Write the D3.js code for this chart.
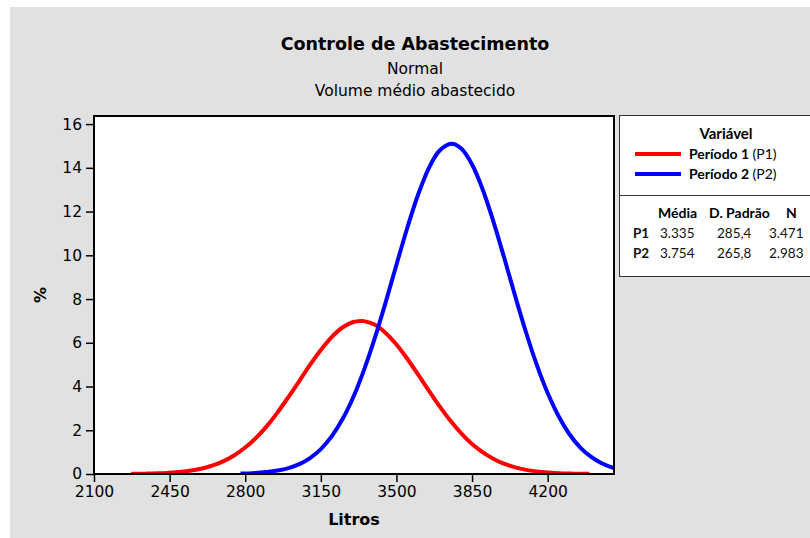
<!DOCTYPE html>
<html><head><meta charset="utf-8">
<script src="https://cdn.jsdelivr.net/npm/d3@7/dist/d3.min.js"></script>
<style>body{margin:0;background:#fff}svg{display:block}</style>
</head><body>
<script>
// ---- data ----
const xTicks = [2100, 2450, 2800, 3150, 3500, 3850, 4200];
const yTicks = [0, 2, 4, 6, 8, 10, 12, 14, 16];
const p1Litros = [2272,2300,2350,2400,2450,2500,2550,2600,2650,2700,2750,2800,2850,2900,2950,3000,3050,3100,3150,3200,3250,3300,3335,3350,3400,3450,3500,3550,3600,3650,3700,3750,3800,3850,3900,3950,4000,4050,4100,4150,4200,4250,4300,4350,4393];
const p1Pct    = [0.01,0.01,0.02,0.03,0.06,0.10,0.16,0.25,0.39,0.59,0.86,1.21,1.65,2.19,2.82,3.52,4.25,4.99,5.67,6.26,6.70,6.95,7.00,6.99,6.82,6.45,5.92,5.27,4.55,3.81,3.09,2.43,1.86,1.37,0.99,0.69,0.46,0.30,0.19,0.12,0.07,0.04,0.02,0.01,0.01];
const p2Litros = [2778,2800,2850,2900,2950,3000,3050,3100,3150,3200,3250,3300,3350,3400,3450,3500,3550,3600,3650,3700,3754,3800,3850,3900,3950,4000,4050,4100,4150,4200,4250,4300,4350,4400,4450,4500,4507];
const p2Pct    = [0.02,0.02,0.05,0.09,0.16,0.27,0.45,0.73,1.14,1.72,2.50,3.51,4.76,6.22,7.85,9.57,11.25,12.77,13.99,14.79,15.10,14.88,14.15,12.99,11.51,9.84,8.12,6.47,4.98,3.70,2.65,1.83,1.22,0.79,0.49,0.29,0.27];
const seriesNames = ["Período 1", "Período 2"];
const seriesCodes = ["(P1)", "(P2)"];
const tableHeader = ["Média", "D. Padrão", "N"];
const tableRows = [["P1","3.335","285,4","3.471"],["P2","3.754","265,8","2.983"]];
const colors = ["#ff0000", "#0000ff"];

const W = 810, H = 538;
const svg = d3.select("body").append("svg").attr("width", W).attr("height", H);
svg.append("rect").attr("x",10).attr("y",7).attr("width",W-10).attr("height",H-7).attr("fill","#e1e1e1");

const L = 94, R = 614, T = 116, B = 474;
const x = d3.scaleLinear().domain([2100, 4507]).range([L, R]);
const y = d3.scaleLinear().domain([0, 16.37]).range([B, T]);

svg.append("rect").attr("x",L).attr("y",T).attr("width",R-L).attr("height",B-T).attr("fill","#fff");

// titles
const font = "DejaVu Sans, Verdana, sans-serif";
svg.append("text").attr("x",415).attr("y",50).attr("text-anchor","middle")
  .attr("font-family",font).attr("font-weight","bold").attr("font-size",17.5).text("Controle de Abastecimento");
svg.append("text").attr("x",415).attr("y",74).attr("text-anchor","middle")
  .attr("font-family",font).attr("font-size",15.5).text("Normal");
svg.append("text").attr("x",415).attr("y",96).attr("text-anchor","middle")
  .attr("font-family",font).attr("font-size",15.5).text("Volume médio abastecido");

// clip
svg.append("clipPath").attr("id","pc").append("rect").attr("x",L).attr("y",T).attr("width",R-L).attr("height",B-T);

const line = d3.line().x(d=>x(d[0])).y(d=>y(d[1])).curve(d3.curveCatmullRom);
const g = svg.append("g").attr("clip-path","url(#pc)");
[[p1Litros,p1Pct],[p2Litros,p2Pct]].forEach((s,i)=>{
  g.append("path").datum(s[0].map((v,k)=>[v,s[1][k]]))
   .attr("d",line).attr("fill","none").attr("stroke",colors[i]).attr("stroke-width",4)
   .attr("stroke-linejoin","round");
});

// axes
const xa = svg.append("g").attr("transform",`translate(0,${B})`)
  .call(d3.axisBottom(x).tickValues(xTicks).tickSize(8).tickSizeOuter(0).tickPadding(4).tickFormat(d3.format("d")));
const ya = svg.append("g").attr("transform",`translate(${L},0)`)
  .call(d3.axisLeft(y).tickValues(yTicks).tickSize(8).tickSizeOuter(0).tickPadding(4));
[xa,ya].forEach(a=>{
  a.select(".domain").remove();
  a.selectAll("line").attr("stroke","#000").attr("stroke-width",1.5);
  a.selectAll("text").attr("font-family",font).attr("font-size",15.5).attr("fill","#000");
});
svg.append("rect").attr("x",L).attr("y",T).attr("width",R-L).attr("height",B-T)
  .attr("fill","none").attr("stroke","#000").attr("stroke-width",2);

svg.append("text").attr("x",(L+R)/2).attr("y",525).attr("text-anchor","middle")
  .attr("font-family",font).attr("font-weight","bold").attr("font-size",16).text("Litros");
svg.append("text").attr("transform",`translate(46,${(T+B)/2}) rotate(-90)`).attr("text-anchor","middle")
  .attr("font-family",font).attr("font-weight","bold").attr("font-size",16).text("%");

// legend
const lf = "Lato, 'Open Sans', sans-serif";
svg.append("rect").attr("x",619.5).attr("y",115.5).attr("width",200).attr("height",161)
  .attr("fill","#fff").attr("stroke","#333").attr("stroke-width",1);
svg.append("line").attr("x1",619.5).attr("x2",810).attr("y1",195.5).attr("y2",195.5).attr("stroke","#333");
svg.append("text").attr("x",726).attr("y",138.5).attr("text-anchor","middle")
  .attr("font-family",lf).attr("font-weight","bold").attr("font-size",15).text("Variável");
seriesNames.forEach((n,i)=>{
  const yy = 154 + i*20;
  svg.append("line").attr("x1",635).attr("x2",681).attr("y1",yy).attr("y2",yy)
    .attr("stroke",colors[i]).attr("stroke-width",4);
  const t = svg.append("text").attr("x",689).attr("y",yy+5).attr("font-family",lf).attr("font-size",14);
  t.append("tspan").attr("font-weight","bold").text(n+" ");
  t.append("tspan").text(seriesCodes[i]);
});
const hx = [658, 709, 786];
tableHeader.forEach((h,i)=>{
  svg.append("text").attr("x",hx[i]).attr("y",218).attr("font-family",lf).attr("font-weight","bold")
    .attr("font-size",14).text(h);
});
const cx = [633, 660, 717, 769];
tableRows.forEach((r,j)=>{
  r.forEach((c,i)=>{
    svg.append("text").attr("x",cx[i]).attr("y",238+j*20).attr("font-family",lf)
      .attr("font-weight",i===0?"bold":"normal").attr("font-size",13.5).attr("fill","#111").text(c);
  });
});
</script>
</body></html>
